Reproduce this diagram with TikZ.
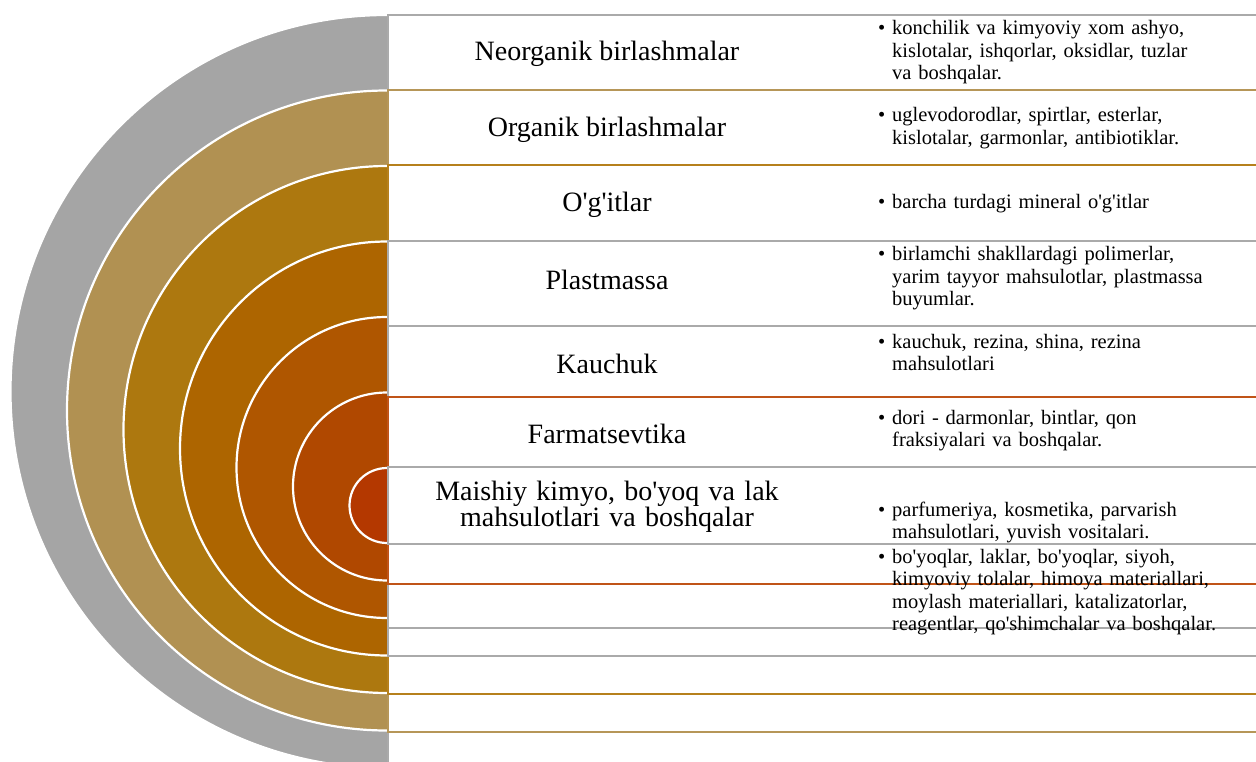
\documentclass[tikz,border=0pt]{standalone}
\usepackage{fontspec}
\setmainfont{Liberation Serif}
\definecolor{cgray}{RGB}{165,165,165}
\definecolor{ctan}{RGB}{177,145,82}
\definecolor{cgold}{RGB}{173,120,15}
\definecolor{cfour}{RGB}{173,101,0}
\definecolor{cfive}{RGB}{175,86,0}
\definecolor{csix}{RGB}{176,72,0}
\definecolor{cseven}{RGB}{180,56,0}
\definecolor{lgray}{RGB}{170,170,170}
\definecolor{ltan}{RGB}{182,150,88}
\definecolor{lgold}{RGB}{182,128,28}
\definecolor{lorange}{RGB}{192,84,24}
\newcommand\bul{\makebox[14pt][l]{\textbullet}}
\newcommand\ind{\hspace*{14pt}}
\newcommand\q{\textquotesingle}
\begin{document}
\begin{tikzpicture}[x=1pt,y=-1pt,
  ringedge/.style={draw=white,line width=2.2pt},
  band/.style={fill=white,line width=2pt},
  lbl/.style={font=\fontsize{28}{26.5}\selectfont,anchor=base,inner sep=0pt},
  desc/.style={font=\fontsize{20.5}{22.5}\selectfont,anchor=base west,inner sep=0pt,text width=375pt,align=left}]
\useasboundingbox (0,0) rectangle (1256,762);
\begin{scope}
\clip (0,0) rectangle (1256,762);
% nested half discs
\foreach \k/\c in {0/cgray,1/ctan,2/cgold,3/cfour,4/cfive,5/csix,6/cseven}{
  \pgfmathsetmacro\cy{391.5+19*\k}
  \pgfmathsetmacro\r{376.5-56.5*\k}
  \fill[\c] (387,\cy-\r) arc[start angle=270,end angle=90,radius=\r] -- cycle;
  \draw[ringedge] (387,\cy-\r) arc[start angle=270,end angle=90,radius=\r];
}
% row bands
\draw[band,draw=lgray]   (387.5,15)    rectangle (1280,790);
\draw[band,draw=ltan]    (387.5,90.5)  rectangle (1280,731.7);
\draw[band,draw=lgold]   (387.5,165.3) rectangle (1280,694);
\draw[band,draw=lgray]   (387.5,241)   rectangle (1280,656);
\draw[band,draw=lgray]   (387.5,326)   rectangle (1280,628.3);
\draw[band,draw=lorange] (387.5,397)   rectangle (1280,584.3);
\draw[band,draw=lgray]   (387.5,467.3) rectangle (1280,543.5);
\end{scope}
% left labels
\node[lbl] (l1) at (607,61)    {Neorganik birlashmalar};
\node[lbl] (l2) at (607,136.5) {Organik birlashmalar};
\node[lbl] (l3) at (607,212)   {O\q{}g\q{}itlar};
\node[lbl] (l4) at (607,289)   {Plastmassa};
\node[lbl] (l5) at (607,373)   {Kauchuk};
\node[lbl] (l6) at (607,443)   {Farmatsevtika};
\node[lbl,text width=420pt,align=center] (l7) at (607,500) {Maishiy kimyo, bo\q{}yoq va lak\\mahsulotlari va boshqalar};
% descriptions
\node[desc] (d1) at (878,35) {\bul konchilik va kimyoviy xom ashyo,\\ \ind kislotalar, ishqorlar, oksidlar, tuzlar\\ \ind va boshqalar.};
\node[desc] (d2) at (878,122) {\bul uglevodorodlar, spirtlar, esterlar,\\ \ind kislotalar, garmonlar, antibiotiklar.};
\node[desc] (d3) at (878,209) {\bul barcha turdagi mineral o\q{}g\q{}itlar};
\node[desc] (d4) at (878,261) {\bul birlamchi shakllardagi polimerlar,\\ \ind yarim tayyor mahsulotlar, plastmassa\\ \ind buyumlar.};
\node[desc] (d5) at (878,348) {\bul kauchuk, rezina, shina, rezina\\ \ind mahsulotlari};
\node[desc] (d6) at (878,424) {\bul dori - darmonlar, bintlar, qon\\ \ind fraksiyalari va boshqalar.};
\node[desc] (d7) at (878,516) {\bul parfumeriya, kosmetika, parvarish\\ \ind mahsulotlari, yuvish vositalari.};
\node[desc] (d8) at (878,563) {\bul bo\q{}yoqlar, laklar, bo\q{}yoqlar, siyoh,\\ \ind kimyoviy tolalar, himoya materiallari,\\ \ind moylash materiallari, katalizatorlar,\\ \ind reagentlar, qo\q{}shimchalar va boshqalar.};
\end{tikzpicture}
\end{document}
